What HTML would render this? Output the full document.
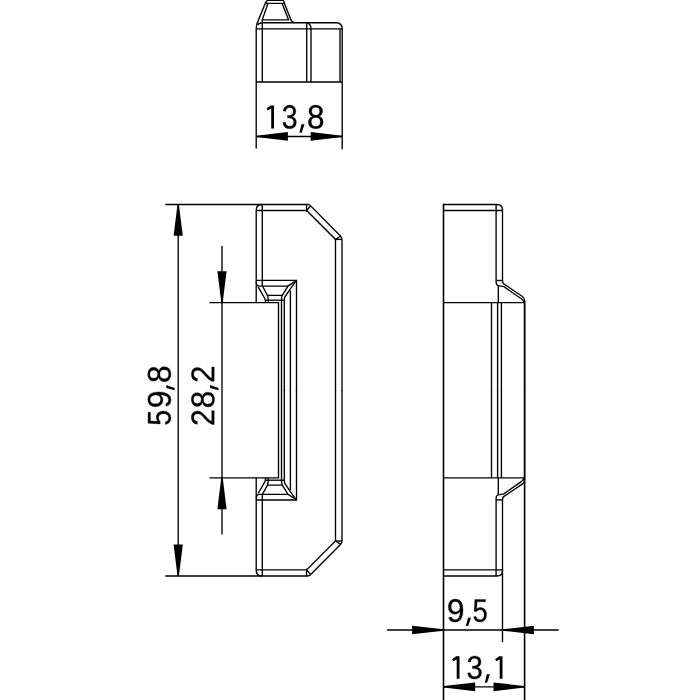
<!DOCTYPE html>
<html><head><meta charset="utf-8">
<style>
html,body{margin:0;padding:0;background:#fff;width:700px;height:700px;overflow:hidden}
svg{display:block}
.s{fill:none;stroke:#000;stroke-width:1.35;stroke-linecap:butt;stroke-linejoin:miter}
.a{fill:#000;stroke:none}
.t{fill:#000;stroke:none}
.t use{stroke:#000;stroke-width:22}
</style></head>
<body>
<svg width="700" height="700" viewBox="0 0 700 700">
<defs><path id="g2" d="M103 0V127Q154 244 228 334Q301 423 382 496Q463 568 542 630Q622 692 686 754Q750 816 790 884Q829 952 829 1038Q829 1154 761 1218Q693 1282 572 1282Q457 1282 382 1220Q308 1157 295 1044L111 1061Q131 1230 254 1330Q378 1430 572 1430Q785 1430 900 1330Q1014 1229 1014 1044Q1014 962 976 881Q939 800 865 719Q791 638 582 468Q467 374 399 298Q331 223 301 153H1036V0Z"/><path id="g3" d="M1049 389Q1049 194 925 87Q801 -20 571 -20Q357 -20 230 76Q102 173 78 362L264 379Q300 129 571 129Q707 129 784 196Q862 263 862 395Q862 510 774 574Q685 639 518 639H416V795H514Q662 795 744 860Q825 924 825 1038Q825 1151 758 1216Q692 1282 561 1282Q442 1282 368 1221Q295 1160 283 1049L102 1063Q122 1236 246 1333Q369 1430 563 1430Q775 1430 892 1332Q1010 1233 1010 1057Q1010 922 934 838Q859 753 715 723V719Q873 702 961 613Q1049 524 1049 389Z"/><path id="g5" d="M1053 459Q1053 236 920 108Q788 -20 553 -20Q356 -20 235 66Q114 152 82 315L264 336Q321 127 557 127Q702 127 784 214Q866 302 866 455Q866 588 784 670Q701 752 561 752Q488 752 425 729Q362 706 299 651H123L170 1409H971V1256H334L307 809Q424 899 598 899Q806 899 930 777Q1053 655 1053 459Z"/><path id="g8" d="M1050 393Q1050 198 926 89Q802 -20 570 -20Q344 -20 216 87Q89 194 89 391Q89 529 168 623Q247 717 370 737V741Q255 768 188 858Q122 948 122 1069Q122 1230 242 1330Q363 1430 566 1430Q774 1430 894 1332Q1015 1234 1015 1067Q1015 946 948 856Q881 766 765 743V739Q900 717 975 624Q1050 532 1050 393ZM828 1057Q828 1296 566 1296Q439 1296 372 1236Q306 1176 306 1057Q306 936 374 872Q443 809 568 809Q695 809 762 868Q828 926 828 1057ZM863 410Q863 541 785 608Q707 674 566 674Q429 674 352 602Q275 531 275 406Q275 115 572 115Q719 115 791 186Q863 256 863 410Z"/><path id="g9" d="M1042 733Q1042 370 910 175Q777 -20 532 -20Q367 -20 268 50Q168 119 125 274L297 301Q351 125 535 125Q690 125 775 269Q860 413 864 680Q824 590 727 536Q630 481 514 481Q324 481 210 611Q96 741 96 956Q96 1177 220 1304Q344 1430 565 1430Q800 1430 921 1256Q1042 1082 1042 733ZM846 907Q846 1077 768 1180Q690 1284 559 1284Q429 1284 354 1196Q279 1107 279 956Q279 802 354 712Q429 623 557 623Q635 623 702 658Q769 694 808 759Q846 824 846 907Z"/></defs>
<g class="s">
<!-- ===== TOP VIEW ===== -->
<path d="M256.2,148.6 V28.5 C256.2,25.5 257,23 258.2,20.6 L265.2,3.4 H284.4 L290.4,18.5 Q291.8,22.6 295,22.7 H336 Q342.2,22.7 342.2,29 V149.3"/>
<path d="M265.4,3.3 Q266.3,0.3 268,0.3 H282.6 Q284,0.3 284.4,3.3"/>
<path d="M267.9,3.5 L262.3,19.9 H288.6 L282.1,3.5"/>
<path d="M262.3,19.9 V82"/>
<path d="M257.8,25 Q259,22.7 262.3,22.7 H295"/>
<path d="M256.2,28.8 H342.2"/>
<path d="M306.7,82 V22.8 Q311,23.5 311,28.8 V82"/>
<path d="M340,28.8 V82"/>
<path d="M256.2,82 H342.2"/>
<!-- 13,8 dim -->
<path d="M256.2,136.5 H342.1"/>

<!-- ===== FRONT VIEW (top half + mirrored) ===== -->
<g id="fh">
<path d="M209.5,302.6 H278.5 V390.5"/>
<path d="M165.3,204.45 H308 Q309.5,204.6 310.7,205.9 L340.7,236.2 Q342,237.8 342,239.8 V390.5"/>
<path d="M256.2,302.6 V210.2 Q256.2,204.45 262,204.45"/>
<path d="M256.2,210.5 H306.6 L335.5,239.4 V390.5"/>
<path d="M335.5,239.4 H342"/>
<path d="M335.5,239.4 L340.7,236"/>
<path d="M262.3,204.45 V286.1"/>
<path d="M306.6,204.45 V210.5 L310.5,206"/>
<!-- slot -->
<path d="M256.2,280.4 H296.5 V390.5"/>
<path d="M256.2,282 Q256.8,286.1 259,286.1 H288"/>
<path d="M258.1,286.9 L264.8,298.5 Q265.5,300 265.6,302.6"/>
<path d="M262.7,286.5 L267.4,295.3 H282.3 L288,286.1 L296.3,280.6"/>
<path d="M267.4,295.3 Q268.2,297 268.3,302.6"/>
<path d="M265.6,300.2 H284.2"/>
<path d="M282.3,295.1 Q281.5,296.5 281.5,300.3 V390.5"/>
<path d="M296.3,280.6 L290.7,288.3 L284.8,297 Q284.3,298 284.3,300.3 V390.5"/>
<path d="M290.4,290.5 V390.5"/>
</g>
<use href="#fh" transform="translate(0,780.4) scale(1,-1)"/>
<!-- dims 59,8 and 28,2 -->
<path d="M178.2,204.5 V576"/>
<path d="M222,246.1 V534.4"/>

<!-- ===== SIDE VIEW ===== -->
<g id="sh">
<path d="M443.5,204.45 H497 Q502.5,204.45 502.5,210 V280.5 Q502.5,283.8 504.6,284.4 L522.5,296.5 Q524.6,298.2 524.6,301 V390.5"/>
<path d="M443.5,210.5 H502.5"/>
<path d="M496.1,204.45 V282 Q496.1,285.6 499.4,285.8 L503.9,286.6 L521.6,299 Q523.4,300.3 524.2,302.6"/>
<path d="M496.1,280.5 H502.5"/>
<path d="M498.3,286 V302.6"/>
<path d="M443.5,302.6 H524.5"/>
<path d="M491.5,302.6 V390.5 M497.6,302.6 V390.5 M501.4,302.6 V390.5"/>
</g>
<use href="#sh" transform="translate(0,780.4) scale(1,-1)"/>
<path d="M443.5,203.8 V700" style="stroke-width:1.6"/>
<path d="M524.6,301.5 V700" style="stroke-width:1.6"/>
<path d="M502.5,570 V642.3"/>
<!-- 9,5 -->
<path d="M387,630 H558.7"/>
<!-- 13,1 -->
<path d="M443.5,686.8 H524.5"/>
</g>

<!-- arrows -->
<g class="a">
<polygon points="256.4,135.7 287.9,132 287.9,140.8 256.4,137.1"/>
<polygon points="342.1,135.7 310.7,132 310.7,140.8 342.1,137.1"/>
<polygon points="177.5,204.6 173.6,235.8 182.8,235.8 178.9,204.6"/>
<polygon points="177.5,576 173.6,544.4 182.8,544.4 178.9,576"/>
<polygon points="221.3,302.4 217.4,271.3 226.6,271.3 222.7,302.4"/>
<polygon points="221.3,477.6 217.4,509.2 226.6,509.2 222.7,477.6"/>
<polygon points="443.5,629.3 412.1,625.8 412.1,634.2 443.5,630.7"/>
<polygon points="502.5,629.3 533.9,625.8 533.9,634.2 502.5,630.7"/>
<polygon points="443.5,686.1 475.2,682.4 475.2,691.2 443.5,687.5"/>
<polygon points="524.5,686.1 493.5,682.4 493.5,691.2 524.5,687.5"/>
</g>
<g class="t">
<polygon points="274,105.4333 274,128.4 271.2,128.4 271.2,108.5333 267.7,110.4333 266.6,108.3333 270.6,105.4333"/>
<use href="#g3" transform="matrix(0.0139,0,0,-0.0163,281.7689,128.4)"/>
<polygon points="301.5,124.3 304.5,124.3 301.7,132.7 299.4,132.7"/>
<use href="#g8" transform="matrix(0.0154,0,0,-0.0163,307.0018,128.4)"/>
<use href="#g9" transform="matrix(0.0156,0,0,-0.0159,446.7741,621.8)"/>
<polygon points="468,617.7 471,617.7 468.2,626.1 465.9,626.1"/>
<use href="#g5" transform="matrix(0.0134,0,0,-0.0159,472.549,621.8)"/>
<polygon points="459.5,656.3533 459.5,678.7 456.7,678.7 456.7,659.4533 453.2,661.3533 452.1,659.2533 456.1,656.3533"/>
<use href="#g3" transform="matrix(0.0143,0,0,-0.0159,466.5419,678.7)"/>
<polygon points="486.9,674.3 489.9,674.3 487.1,682.7 484.8,682.7"/>
<polygon points="502.5,656.3533 502.5,678.7 499.7,678.7 499.7,659.4533 496.2,661.3533 495.1,659.2533 499.1,656.3533"/>
<g transform="matrix(0,-1,1,0,0,800)">
<use href="#g5" transform="matrix(0.0138,0,0,-0.016,374.4204,170.6)"/>
<use href="#g9" transform="matrix(0.0157,0,0,-0.016,391.7653,170.6)"/>
<polygon points="411.9,166.3 414.9,166.3 412.1,174.7 409.8,174.7"/>
<use href="#g8" transform="matrix(0.0155,0,0,-0.016,416.9939,170.6)"/>
<use href="#g2" transform="matrix(0.0147,0,0,-0.016,374.0513,214.2)"/>
<use href="#g8" transform="matrix(0.0154,0,0,-0.016,391.7018,214.2)"/>
<polygon points="411.9,210.1 414.9,210.1 412.1,218.5 409.8,218.5"/>
<use href="#g2" transform="matrix(0.0153,0,0,-0.016,417.0935,214.2)"/>
</g></g>
</svg>
</body></html>
